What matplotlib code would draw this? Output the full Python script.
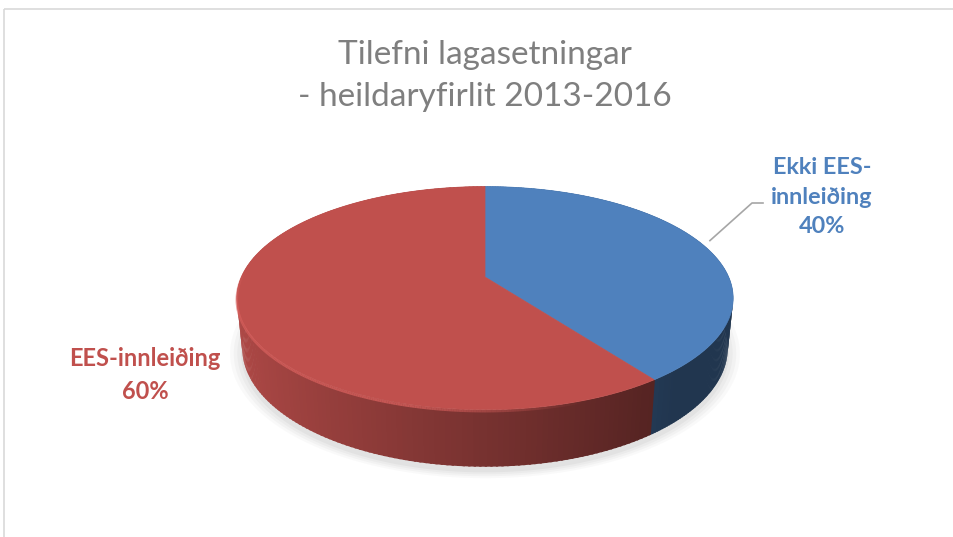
import matplotlib.pyplot as plt
import numpy as np
from matplotlib.patches import Polygon, Rectangle
from matplotlib.collections import LineCollection

# data
labels = ["Ekki EES-\ninnleiðing", "EES-innleiðing"]
values = [40, 60]
colors = ["#4F81BD", "#C0504D"]
title = "Tilefni lagasetningar\n- heildaryfirlit 2013-2016"

# view of the 3d disc (pixel coords)
cx, cy = 485, 277
elev = np.radians(26.2)
dist = 4.74
scale = 1155
thick = 0.23


def proj(th, z):
    x = np.cos(th)
    y = np.sin(th)
    c, s = np.cos(elev), np.sin(elev)
    ry = y + dist * c
    rz = z - dist * s
    depth = ry * c - rz * s
    xs = x / depth
    ys = ry * s + rz * c
    ys = ys / depth
    return cx + scale * xs, cy - scale * ys, depth


def shade(col, f):
    rgb = np.array(plt.matplotlib.colors.to_rgb(col))
    return tuple(np.clip(rgb * f, 0, 1))


fig = plt.figure(figsize=(9.54, 5.37), dpi=100)
ax = fig.add_axes([0, 0, 1, 1])
ax.set_xlim(0, 954)
ax.set_ylim(537, 0)
ax.axis("off")

# chart frame
ax.add_patch(Rectangle((4.5, 8.5), 1000, 600, fill=False, ec="#D9D9D9", lw=1.2))

# wedge angles: start at top (far side), go clockwise
fr = np.array(values) / sum(values)
starts = np.pi / 2 - 2 * np.pi * np.concatenate([[0], np.cumsum(fr)[:-1]])
ends = starts - 2 * np.pi * fr

# soft shadow under the disc
tt = np.linspace(0, 2 * np.pi, 200)
bx, by, _ = proj(tt, -thick)
for k, a in zip([1.05, 1.035, 1.02, 1.005], [0.04, 0.05, 0.06, 0.08]):
    sx = cx + (bx - cx) * k
    sy = by + 5 + (by - by.mean()) * (k - 1)
    ax.add_patch(Polygon(np.c_[sx, sy], closed=True, fc="#7F7F7F", ec="none", alpha=a))

# side wall strips, far ones first
strips = []
eps = 0.004
for i in range(len(values)):
    th = np.linspace(ends[i], starts[i], 200)
    for a0, a1 in zip(th[:-1], th[1:]):
        b0, b1 = a0 - eps, a1 + eps
        x0, y0, d0 = proj(b0, 0)
        x1, y1, d1 = proj(b1, 0)
        x2, y2, _ = proj(b1, -thick)
        x3, y3, _ = proj(b0, -thick)
        am = (a0 + a1) / 2
        f = max(0.42, 0.62 - 0.30 * np.cos(am))
        strips.append(((d0 + d1) / 2, [[x0, y0], [x1, y1], [x2, y2], [x3, y3]], shade(colors[i], f)))
strips.sort(key=lambda s: -s[0])
for _, pts, col in strips:
    ax.add_patch(Polygon(pts, closed=True, fc=col, ec="none"))

# top faces
for i in range(len(values)):
    th = np.linspace(starts[i], ends[i], 300)
    px, py, _ = proj(th, 0)
    pts = np.vstack([[cx, cy], np.c_[px, py]])
    ax.add_patch(Polygon(pts, closed=True, fc=colors[i], ec=colors[i], lw=0.5))

# light bevel along the front rim, fading at both ends
th = np.linspace(np.radians(175), np.radians(290), 240)
px, py, _ = proj(th, 0)
segs = np.stack([np.c_[px[:-1], py[:-1] + 1.5], np.c_[px[1:], py[1:] + 1.5]], axis=1)
u = np.linspace(0, 1, len(segs))
alph = 0.75 * np.clip(np.minimum(u / 0.15, (1 - u) / 0.3), 0, 1)
rgba = [(0.85, 0.38, 0.37, a) for a in alph]
ax.add_collection(LineCollection(segs, colors=rgba, linewidths=1.8))

# title
ax.text(485, 76, title, ha="center", va="center", fontsize=24, color="#7F7F7F",
        family="Lato", linespacing=1.5)

# data labels
ax.text(822, 197, labels[0] + "\n%d%%" % values[0], ha="center", va="center",
        fontsize=16.8, fontweight="bold", color=colors[0], family="Lato", linespacing=1.5)
ax.text(145, 375, labels[1] + "\n%d%%" % values[1], ha="center", va="center",
        fontsize=17, fontweight="bold", color=colors[1], family="Lato", linespacing=1.5)

# leader line for the blue slice
mid = (starts[0] + ends[0]) / 2
lx, ly, _ = proj(mid, 0)
ax.plot([lx + 6, 752, 763], [ly - 5, 203, 203], color="#A6A6A6", lw=1.2)

fig.savefig("out.png", dpi=100)
